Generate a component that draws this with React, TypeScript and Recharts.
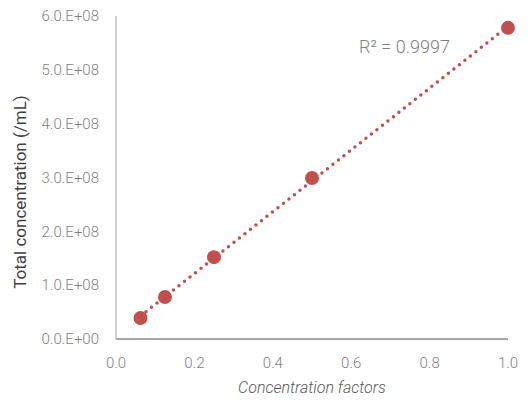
import React from 'react';
import { ScatterChart, Scatter, XAxis, YAxis, Label } from 'recharts';

const factors = [0.0625, 0.125, 0.25, 0.5, 1.0];
const concentrations = [0.39e8, 0.78e8, 1.52e8, 2.99e8, 5.78e8];
const xTicks = [0, 0.2, 0.4, 0.6, 0.8, 1.0];
const yTicks = [0, 1e8, 2e8, 3e8, 4e8, 5e8, 6e8];
const rSquared = 'R² = 0.9997';

const RED = '#C0504D';
const FONT = 'Roboto, "Noto Sans", sans-serif';

const points = factors.map((x, i) => ({ x, y: concentrations[i] }));

// least squares fit for the trendline, drawn across the data range
const n = factors.length;
const mx = factors.reduce((a, b) => a + b, 0) / n;
const my = concentrations.reduce((a, b) => a + b, 0) / n;
const slope =
  factors.reduce((s, x, i) => s + (x - mx) * (concentrations[i] - my), 0) /
  factors.reduce((s, x) => s + (x - mx) * (x - mx), 0);
const intercept = my - slope * mx;
const xMin = Math.min(...factors);
const xMax = Math.max(...factors);
const trend = [
  { x: xMin, y: intercept + slope * xMin },
  { x: xMax, y: intercept + slope * xMax },
];

// excel custom format "0.0.E+00"
const yFmt = (v: number) => (v === 0 ? '0.0.E+00' : `${(v / 1e8).toFixed(1)}.E+08`);

const App = () => {
  return (
    <div style={{ position: 'absolute', left: 0, top: 0, width: 531, height: 403, background: '#fff', fontFamily: FONT }}>
      <ScatterChart width={531} height={403} margin={{ top: 16, right: 23, bottom: 0, left: 0 }}>
        <XAxis
          type="number"
          dataKey="x"
          domain={[0, 1]}
          ticks={xTicks}
          tickFormatter={(v: number) => v.toFixed(1)}
          tickLine={false}
          axisLine={{ stroke: '#a6a6a6', strokeWidth: 2 }}
          tick={{ fill: '#7f7f7f', fontSize: 15, fontFamily: FONT, fontWeight: 300 }}
          tickMargin={12}
          height={64}
        >
          <Label
            value="Concentration factors"
            position="insideBottom"
            offset={10}
            style={{ fill: '#595959', fontSize: 16, fontStyle: 'italic', fontFamily: FONT, fontWeight: 300 }}
          />
        </XAxis>
        <YAxis
          type="number"
          dataKey="y"
          domain={[0, 6e8]}
          ticks={yTicks}
          tickFormatter={yFmt}
          tickLine={false}
          axisLine={{ stroke: '#bfbfbf', strokeWidth: 1.5 }}
          tick={{ fill: '#7f7f7f', fontSize: 15, fontFamily: FONT, fontWeight: 300 }}
          tickMargin={11}
          width={116}
        />
        <Scatter
          data={trend}
          line={{ stroke: RED, strokeWidth: 3.5, strokeDasharray: '0 7', strokeLinecap: 'round' }}
          shape={() => <g />}
          isAnimationActive={false}
        />
        <Scatter data={points} fill={RED} shape={(p: any) => <circle cx={p.cx} cy={p.cy} r={7} fill={RED} />} isAnimationActive={false} />
      </ScatterChart>
      <div
        style={{
          position: 'absolute', left: 20, top: 192, transform: 'translate(-50%, -50%) rotate(-90deg)',
          whiteSpace: 'nowrap', fontSize: 17, color: '#404040', lineHeight: 1,
        }}
      >
        Total concentration (/mL)
      </div>
      <div style={{ position: 'absolute', left: 359, top: 36, fontSize: 18, color: '#7f7f7f', fontWeight: 300, lineHeight: 1.2 }}>{rSquared}</div>
    </div>
  );
};

export default App;
